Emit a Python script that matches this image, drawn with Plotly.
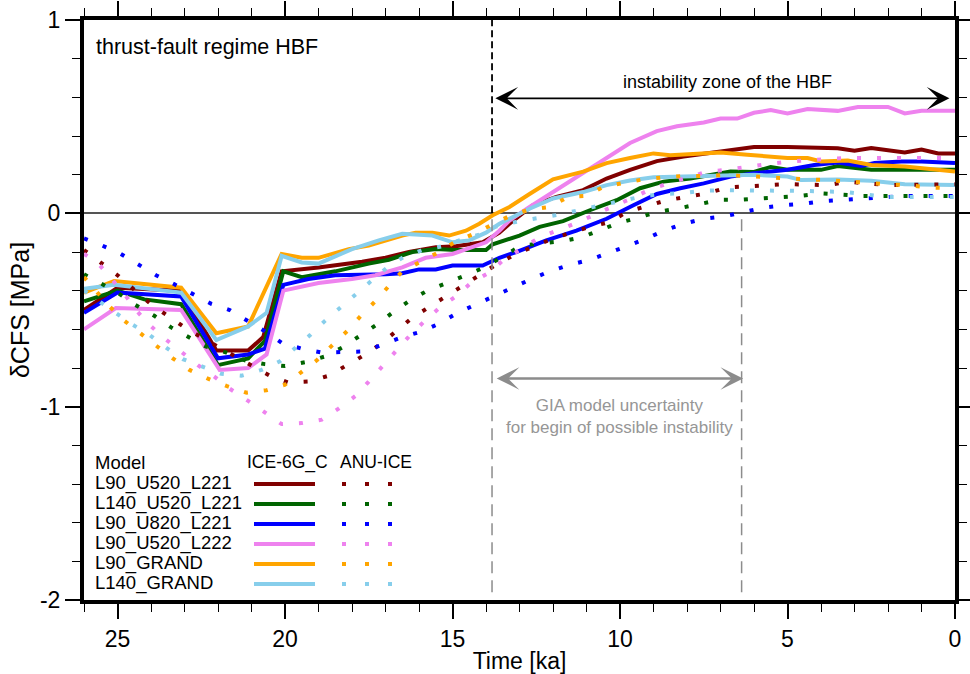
import plotly.graph_objects as go

# ---------------- data (time in ka, dCFS in MPa) ----------------
# ICE-6G_C (solid)
t_red = [26, 25, 23.1, 22.05, 21.1, 20.65, 20.1, 19, 17.7, 17, 16.3, 15.5, 14.9, 14.1, 13.6, 13.3, 12.6, 11.9, 11.1, 10.4, 9.7, 8.9, 8.1, 7.4, 6.7, 6, 5, 3.5, 3, 2.5, 1.5, 1, 0.5, 0]
v_red = [-0.50, -0.385, -0.40, -0.71, -0.71, -0.64, -0.30, -0.28, -0.25, -0.23, -0.20, -0.175, -0.17, -0.15, -0.10, -0.054, 0.042, 0.085, 0.12, 0.18, 0.225, 0.27, 0.294, 0.31, 0.324, 0.343, 0.343, 0.337, 0.324, 0.338, 0.315, 0.33, 0.31, 0.31]

t_green = [26, 25, 24.2, 23.1, 22.0, 21.1, 20.6, 20.05, 19.5, 18.5, 17.5, 16.9, 16.2, 15.5, 14.9, 14.0, 13.8, 13.0, 12.4, 11.7, 10.9, 10.1, 9.4, 8.7, 7.9, 6.7, 6, 5.5, 5, 4, 3.5, 2.5, 1.5, 0]
v_green = [-0.455, -0.40, -0.445, -0.47, -0.785, -0.75, -0.66, -0.30, -0.33, -0.30, -0.26, -0.24, -0.20, -0.185, -0.19, -0.19, -0.16, -0.115, -0.07, -0.04, 0.016, 0.068, 0.13, 0.164, 0.18, 0.216, 0.214, 0.24, 0.225, 0.225, 0.245, 0.225, 0.225, 0.226]

t_blue = [26, 25, 23.1, 22.0, 21.1, 20.6, 20.05, 19.3, 18.5, 17.9, 17.0, 16.5, 16.0, 15.5, 15.0, 14.1, 13.6, 13.1, 12.2, 11.3, 10.4, 9.6, 8.9, 8.2, 7.5, 6.7, 6.0, 5.0, 4.2, 3.5, 2.8, 2.4, 1.6, 1.0, 0]
v_blue = [-0.515, -0.41, -0.43, -0.75, -0.73, -0.70, -0.37, -0.34, -0.32, -0.32, -0.315, -0.31, -0.29, -0.29, -0.27, -0.27, -0.23, -0.20, -0.14, -0.09, -0.028, 0.042, 0.10, 0.13, 0.155, 0.19, 0.207, 0.225, 0.25, 0.263, 0.245, 0.26, 0.268, 0.268, 0.26]

t_pink = [26, 25.05, 23.1, 21.95, 21.1, 20.55, 20.05, 19, 18, 17.3, 16.5, 15.8, 15.0, 14.5, 14.0, 13.6, 13.3, 12.7, 12.0, 11.2, 10.5, 9.7, 8.9, 8.3, 7.5, 7.0, 6.5, 6.0, 5.5, 5.0, 4.4, 3.5, 2.9, 2.0, 1.5, 1.0, 0]
v_pink = [-0.60, -0.49, -0.50, -0.81, -0.80, -0.73, -0.40, -0.36, -0.34, -0.32, -0.28, -0.23, -0.21, -0.18, -0.15, -0.09, -0.037, 0.033, 0.11, 0.20, 0.28, 0.364, 0.425, 0.45, 0.47, 0.49, 0.49, 0.52, 0.534, 0.517, 0.54, 0.53, 0.55, 0.55, 0.517, 0.53, 0.53]

t_orange = [26, 25.1, 23.1, 22.05, 21.1, 20.1, 19.5, 19.0, 18.1, 17.5, 16.5, 16.1, 15.6, 15.1, 14.6, 14.2, 13.8, 13.3, 12.7, 12.0, 11.1, 10.4, 9.7, 9.0, 8.5, 7.7, 7.0, 6.2, 5.0, 4.4, 4.0, 3.2, 2.5, 1.5, 0]
v_orange = [-0.41, -0.35, -0.385, -0.62, -0.585, -0.21, -0.23, -0.23, -0.185, -0.167, -0.115, -0.10, -0.10, -0.115, -0.09, -0.054, -0.01, 0.033, 0.10, 0.176, 0.216, 0.26, 0.286, 0.31, 0.30, 0.31, 0.315, 0.303, 0.286, 0.286, 0.268, 0.273, 0.25, 0.242, 0.216]

t_sky = [26, 25.1, 23.1, 22.05, 21.1, 20.55, 20.1, 19.5, 19.0, 18.0, 17.2, 16.5, 15.6, 15.0, 14.5, 14.0, 13.6, 13.3, 12.7, 12.0, 11.1, 10.4, 9.7, 9.0, 8.1, 7.3, 6.7, 6.0, 5.0, 4.6, 3.5, 2.5, 1.5, 0]
v_sky = [-0.39, -0.37, -0.41, -0.655, -0.585, -0.515, -0.22, -0.254, -0.26, -0.185, -0.14, -0.106, -0.115, -0.15, -0.14, -0.10, -0.054, -0.028, 0.024, 0.077, 0.11, 0.146, 0.17, 0.186, 0.19, 0.193, 0.20, 0.20, 0.19, 0.172, 0.175, 0.168, 0.15, 0.146]

# ANU-ICE (dotted)
ta_red = [26, 25, 24, 23, 22, 21, 20.45, 19.9, 19.3, 18.7, 18.2, 17.6, 17.1, 16.2, 15.2, 14.15, 13.65, 13.1, 12.0, 10.9, 10.3, 9.8, 8.6, 7.4, 6.8, 5.0, 3.8, 3.2, 2.6, 2.0, 0]
va_red = [-0.19, -0.32, -0.47, -0.59, -0.69, -0.79, -0.84, -0.875, -0.87, -0.84, -0.79, -0.73, -0.67, -0.54, -0.43, -0.315, -0.26, -0.21, -0.13, -0.07, -0.045, 0.007, 0.068, 0.103, 0.134, 0.151, 0.146, 0.163, 0.155, 0.146, 0.151]

ta_green = [26, 25.5, 25.0, 24.5, 23.9, 23.4, 22.9, 22.35, 21.75, 21.2, 20.6, 20.0, 19.4, 18.8, 18.3, 17.8, 17.3, 16.8, 16.3, 15.75, 15.2, 14.6, 14.05, 12.95, 12.35, 11.75, 11.15, 10.6, 10.05, 9.45, 8.9, 8.3, 7.7, 7.0, 6.5, 5.85, 5.25, 4.65, 4.0, 3.4, 2.8, 0]
va_green = [-0.315, -0.36, -0.41, -0.47, -0.53, -0.59, -0.64, -0.69, -0.72, -0.76, -0.78, -0.79, -0.77, -0.74, -0.695, -0.64, -0.58, -0.515, -0.454, -0.40, -0.364, -0.32, -0.28, -0.167, -0.155, -0.145, -0.124, -0.085, -0.05, -0.022, 0.007, 0.024, 0.047, 0.07, 0.07, 0.077, 0.082, 0.09, 0.103, 0.094, 0.09, 0.09]

ta_blue = [26, 25.45, 24.9, 24.35, 23.85, 23.3, 22.75, 22.2, 21.65, 21.1, 20.6, 20.1, 19.5, 18.9, 18.3, 17.7, 17.1, 16.5, 15.9, 15.4, 14.85, 14.3, 13.75, 13.2, 12.65, 12.1, 11.5, 10.9, 10.4, 9.8, 9.2, 8.7, 8.1, 7.5, 6.9, 6.3, 5.7, 5.1, 4.5, 3.9, 3.3, 2.7, 2.1, 1.5, 0]
va_blue = [-0.13, -0.167, -0.21, -0.266, -0.32, -0.367, -0.42, -0.468, -0.50, -0.555, -0.61, -0.67, -0.70, -0.72, -0.72, -0.715, -0.68, -0.64, -0.61, -0.57, -0.515, -0.47, -0.43, -0.385, -0.34, -0.30, -0.266, -0.24, -0.21, -0.17, -0.13, -0.09, -0.054, -0.028, -0.016, 0.007, 0.03, 0.042, 0.05, 0.064, 0.07, 0.077, 0.082, 0.09, 0.09]

ta_pink = [26, 25.6, 25.2, 24.8, 24.45, 24.05, 23.6, 23.1, 22.6, 22.1, 21.65, 21.1, 20.6, 20.1, 19.5, 18.9, 18.4, 17.9, 17.5, 17.1, 16.7, 16.3, 15.85, 15.4, 14.9, 14.45, 13.9, 13.45, 12.95, 12.4, 11.3, 10.75, 10.2, 9.65, 9.1, 8.5, 7.9, 7.4, 6.8, 6.2, 5.55, 4.95, 4.35, 3.75, 3.15, 0]
va_pink = [-0.21, -0.254, -0.335, -0.416, -0.50, -0.576, -0.646, -0.715, -0.785, -0.846, -0.907, -0.97, -1.03, -1.09, -1.085, -1.067, -1.01, -0.945, -0.87, -0.79, -0.71, -0.637, -0.56, -0.49, -0.43, -0.36, -0.306, -0.237, -0.185, -0.124, -0.05, -0.005, 0.037, 0.077, 0.124, 0.158, 0.19, 0.216, 0.225, 0.242, 0.256, 0.268, 0.277, 0.282, 0.286, 0.286]

ta_orange = [26, 25.25, 24.8, 24.3, 23.85, 23.35, 22.85, 22.3, 21.75, 21.15, 20.55, 20.0, 19.5, 19.05, 18.6, 18.15, 17.75, 17.3, 16.9, 16.5, 15.95, 15.4, 14.9, 14.35, 13.8, 13.25, 12.7, 12.1, 11.55, 11.0, 10.5, 9.9, 9.3, 8.7, 8.1, 7.5, 6.9, 6.25, 5.65, 5.05, 4.45, 3.8, 3.2, 2.6, 2.0, 1.4, 0.8, 0]
va_orange = [-0.33, -0.48, -0.555, -0.62, -0.684, -0.75, -0.81, -0.855, -0.893, -0.928, -0.915, -0.886, -0.82, -0.76, -0.684, -0.61, -0.533, -0.454, -0.376, -0.30, -0.25, -0.20, -0.145, -0.106, -0.057, -0.01, 0.02, 0.033, 0.085, 0.09, 0.137, 0.158, 0.176, 0.186, 0.193, 0.193, 0.198, 0.193, 0.186, 0.181, 0.176, 0.172, 0.163, 0.155, 0.15, 0.146, 0.134, 0.129]

ta_sky = [26, 25.55, 25.05, 24.55, 24.05, 23.55, 23.05, 22.5, 21.9, 21.3, 20.7, 20.15, 19.7, 19.25, 18.8, 18.35, 17.9, 17.4, 16.95, 16.45, 15.9, 15.3, 14.75, 14.2, 13.7, 13.0, 12.35, 11.75, 11.15, 9.4, 8.8, 8.2, 7.6, 7.0, 4.55, 3.3, 2.1, 0]
va_sky = [-0.40, -0.455, -0.52, -0.576, -0.628, -0.695, -0.754, -0.79, -0.83, -0.84, -0.81, -0.765, -0.70, -0.63, -0.555, -0.486, -0.416, -0.346, -0.28, -0.225, -0.19, -0.17, -0.137, -0.11, -0.068, -0.04, -0.022, -0.005, 0.02, 0.085, 0.10, 0.103, 0.116, 0.12, 0.116, 0.111, 0.085, 0.085]

models = ["L90_U520_L221", "L140_U520_L221", "L90_U820_L221", "L90_U520_L222", "L90_GRAND", "L140_GRAND"]
colors = ["#800000", "#006400", "#0000ff", "#ee82ee", "#ffa500", "#87ceeb"]
ice6g = [(t_red, v_red), (t_green, v_green), (t_blue, v_blue), (t_pink, v_pink), (t_orange, v_orange), (t_sky, v_sky)]
anu = [(ta_red, va_red), (ta_green, va_green), (ta_blue, va_blue), (ta_pink, va_pink), (ta_orange, va_orange), (ta_sky, va_sky)]

y_tickvals = [1, 0, -1, -2]
y_ticklabels = ["1", "0", "-1", "-2"]
x_tickvals = [25, 20, 15, 10, 5, 0]
x_ticklabels = ["25", "20", "15", "10", "5", "0"]

instab_start = 13.82   # ka, begin of instability (ICE-6G_C)
instab_late = 6.37     # ka, latest begin (ANU-ICE)

# ---------------- figure ----------------
W, H = 970, 674
L, R, T, B = 84, 15, 20, 74
FONT = "Liberation Sans, Arial, sans-serif"

def px(x):
    return (x - L) / (W - L - R)

def py(y):
    return (H - B - y) / (H - T - B)

fig = go.Figure()
for (t, v), c, m in zip(ice6g, colors, models):
    fig.add_trace(go.Scatter(x=t, y=v, mode="lines", name=m + " ICE-6G_C",
                             line=dict(color=c, width=4), showlegend=False))
for (t, v), c, m in zip(anu, colors, models):
    fig.add_trace(go.Scatter(x=t, y=v, mode="lines", name=m + " ANU-ICE",
                             line=dict(color=c, width=4, dash="4px,16px"), showlegend=False))

shapes = [
    dict(type="line", xref="x", yref="y", x0=instab_start, x1=instab_start, y0=0, y1=1,
         line=dict(color="black", width=1.8, dash="7px,4px")),
    dict(type="line", xref="x", yref="y", x0=instab_start, x1=instab_start, y0=-1.96, y1=0,
         line=dict(color="#8c8c8c", width=1.5, dash="12px,7px")),
    dict(type="line", xref="x", yref="y", x0=instab_late, x1=instab_late, y0=-1.96, y1=0,
         line=dict(color="#8c8c8c", width=1.5, dash="12px,7px")),
]

annotations = [
    dict(xref="paper", yref="paper", x=px(94), y=py(47), xanchor="left", yanchor="middle",
         text="thrust-fault regime HBF", showarrow=False, font=dict(size=21.5, color="black", family=FONT)),
    # black double arrow
    dict(xref="x", yref="y", axref="x", ayref="y", x=13.72, y=0.595, ax=0.12, ay=0.595,
         text="", showarrow=True, arrowside="end+start", arrowhead=3, startarrowhead=3,
         arrowsize=2.1, startarrowsize=2.1, arrowwidth=1.8, arrowcolor="black"),
    dict(xref="paper", yref="paper", x=px(727), y=py(82), xanchor="center", yanchor="middle",
         text="instability zone of the HBF", showarrow=False, font=dict(size=18, color="black", family=FONT)),
    # gray double arrow
    dict(xref="x", yref="y", axref="x", ayref="y", x=13.68, y=-0.854, ax=6.28, ay=-0.854,
         text="", showarrow=True, arrowside="end+start", arrowhead=3, startarrowhead=3,
         arrowsize=1.45, startarrowsize=1.45, arrowwidth=2.6, arrowcolor="#8c8c8c"),
    dict(xref="paper", yref="paper", x=px(619), y=py(416), xanchor="center", yanchor="middle",
         text="GIA model uncertainty<br>for begin of possible instability", showarrow=False,
         font=dict(size=17, color="#969696", family=FONT)),
    # legend headers
    dict(xref="paper", yref="paper", x=px(93), y=py(462), xanchor="left", yanchor="middle",
         text="Model", showarrow=False, font=dict(size=18.5, color="black", family=FONT)),
    dict(xref="paper", yref="paper", x=px(245), y=py(462), xanchor="left", yanchor="middle",
         text="ICE-6G_C", showarrow=False, font=dict(size=17.5, color="black", family=FONT)),
    dict(xref="paper", yref="paper", x=px(338), y=py(462), xanchor="left", yanchor="middle",
         text="ANU-ICE", showarrow=False, font=dict(size=17.5, color="black", family=FONT)),
]

row_y = [483, 503, 523, 543, 563, 583]
for m, c, yy in zip(models, colors, row_y):
    annotations.append(dict(xref="paper", yref="paper", x=px(93), y=py(yy), xanchor="left", yanchor="middle",
                            text=m, showarrow=False, font=dict(size=18.5, color="black", family=FONT)))
    shapes.append(dict(type="line", xref="paper", yref="paper", x0=px(254), x1=px(315), y0=py(yy + 1), y1=py(yy + 1),
                       line=dict(color=c, width=4)))
    shapes.append(dict(type="line", xref="paper", yref="paper", x0=px(342), x1=px(394), y0=py(yy + 1), y1=py(yy + 1),
                       line=dict(color=c, width=4, dash="4px,19px")))

fig.update_layout(
    width=W, height=H,
    margin=dict(l=L, r=R, t=T, b=B, autoexpand=False),
    paper_bgcolor="white", plot_bgcolor="white",
    font=dict(family=FONT, color="black"),
    shapes=shapes, annotations=annotations,
    xaxis=dict(range=[26, 0], tickmode="array", tickvals=x_tickvals, ticktext=x_ticklabels,
               ticks="outside", ticklen=15, tickwidth=1.5,
               tickcolor="black", showline=True, linewidth=4, linecolor="black", mirror="allticks",
               showgrid=False, zeroline=False, tickfont=dict(size=23, family=FONT), automargin=False,
               minor=dict(tickmode="linear", tick0=0, dtick=1, ticks="outside", ticklen=8, tickwidth=1, tickcolor="black"),
               title=dict(text="Time [ka]", font=dict(size=23, family=FONT), standoff=4)),
    yaxis=dict(range=[-2, 1], tickmode="array", tickvals=y_tickvals, ticktext=y_ticklabels,
               ticks="outside", ticklen=15, tickwidth=1.5,
               tickcolor="black", showline=True, linewidth=4, linecolor="black", mirror="allticks",
               showgrid=False, zeroline=True, zerolinecolor="#555555", zerolinewidth=1.5,
               tickfont=dict(size=23, family=FONT), automargin=False,
               minor=dict(tickmode="linear", tick0=0, dtick=0.2, ticks="outside", ticklen=8, tickwidth=1, tickcolor="black"),
               title=dict(text="δCFS [MPa]", font=dict(size=25, family=FONT), standoff=4)),
)

fig.write_html("out.html", config={"displayModeBar": False},
               post_script="document.body.style.margin='0';document.body.style.overflow='hidden';")
